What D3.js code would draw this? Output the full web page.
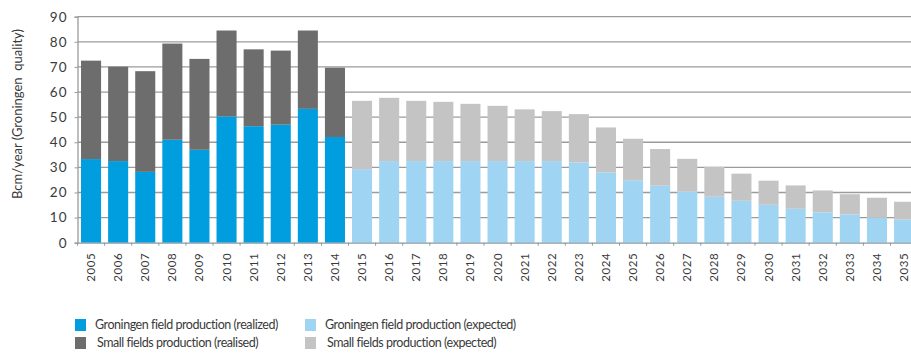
<!DOCTYPE html>
<html><head><meta charset="utf-8">
<script src="https://cdn.jsdelivr.net/npm/d3@7"></script>
<style>body{margin:0;background:#fff}svg{display:block}text{font-family:Lato,"Open Sans",sans-serif;fill:#3a3a3a}</style>
</head><body>
<svg id="c" width="911" height="363"></svg>
<script>
const realizedYears = ["2005","2006","2007","2008","2009","2010","2011","2012","2013","2014"];
const expectedYears = ["2015","2016","2017","2018","2019","2020","2021","2022","2023","2024","2025","2026","2027","2028","2029","2030","2031","2032","2033","2034","2035"];
const groningenRealized = [33.3,32.5,28.2,41.0,37.0,50.3,46.4,47.0,53.3,42.1];
const smallRealized     = [39.2,37.6,40.1,38.3,36.2,34.2,30.6,29.5,31.2,27.6];
const groningenExpected = [29.3,32.5,32.5,32.5,32.5,32.5,32.5,32.5,32.0,28.0,24.9,22.7,20.4,18.3,16.7,15.1,13.5,12.1,11.3,9.9,9.2];
const smallExpected     = [27.2,25.2,24.0,23.6,22.8,22.0,20.6,19.9,19.2,17.9,16.5,14.6,13.0,11.9,10.8,9.6,9.3,8.7,8.0,8.0,7.1];
const yTicks = [0,10,20,30,40,50,60,70,80,90];
const yTitle = "Bcm/year (Groningen  quality)";
const legendLabels = ["Groningen field production (realized)","Groningen field production (expected)","Small fields production (realised)","Small fields production (expected)"];
const colors = {gR:"#009ddf", gE:"#9fd5f3", sR:"#6d6d6d", sE:"#c4c4c4"};

const years = realizedYears.concat(expectedYears);
const rows = realizedYears.map((y,i)=>({year:y,g:groningenRealized[i],s:smallRealized[i],gc:colors.gR,sc:colors.sR}))
  .concat(expectedYears.map((y,i)=>({year:y,g:groningenExpected[i],s:smallExpected[i],gc:colors.gE,sc:colors.sE})));

const svg = d3.select("#c");
const x = d3.scaleBand().domain(years).range([77.5, 917.6]).paddingInner(0.26).paddingOuter(0.13);
const y = d3.scaleLinear().domain([0,90]).range([242.7,16.7]);
const left = 77.5, right = 911;

// gridlines
svg.append("g").selectAll("line").data(yTicks.slice(1)).join("line")
  .attr("x1",left).attr("x2",right).attr("y1",d=>y(d)).attr("y2",d=>y(d))
  .attr("stroke","#9b9b9b").attr("stroke-width",1.3);

// bars
const bars = svg.append("g");
bars.selectAll("rect.g").data(rows).join("rect").attr("class","g")
  .attr("x",d=>x(d.year)).attr("width",x.bandwidth())
  .attr("y",d=>y(d.g)).attr("height",d=>y(0)-y(d.g)).attr("fill",d=>d.gc);
bars.selectAll("rect.s").data(rows).join("rect").attr("class","s")
  .attr("x",d=>x(d.year)).attr("width",x.bandwidth())
  .attr("y",d=>y(d.g+d.s)).attr("height",d=>y(d.g)-y(d.g+d.s)).attr("fill",d=>d.sc);

// y axis
const ya = svg.append("g").attr("transform",`translate(${left},0)`)
  .call(d3.axisLeft(y).tickValues(yTicks).tickSize(3).tickPadding(7).tickFormat(d3.format("d")));
ya.select(".domain").attr("stroke","#9b9b9b").attr("stroke-width",1.3);
ya.selectAll(".tick line").attr("stroke","#9b9b9b");
ya.selectAll(".tick text").style("font-size","13.5px").style("letter-spacing","1px").attr("fill","#3a3a3a");

// x axis
const xa = svg.append("g").attr("transform",`translate(0,${y(0)})`)
  .call(d3.axisBottom(x).tickSize(0).tickPadding(0));
xa.select(".domain").attr("stroke","#8a9aa5").attr("stroke-width",1.3);
xa.selectAll(".tick text").attr("transform","rotate(-90)").attr("text-anchor","end")
  .attr("x",-10).attr("y",0).attr("dy","0.35em")
  .style("font-size","11.5px").style("letter-spacing","0.6px").attr("fill","#3a3a3a");
// boundary tick marks
const step = x.step();
svg.append("g").selectAll("line").data(years).join("line")
  .attr("x1",d=>x(d)-step*x.paddingInner()/2).attr("x2",d=>x(d)-step*x.paddingInner()/2)
  .attr("y1",y(0)).attr("y2",y(0)+3).attr("stroke","#8a9aa5");

// y title
svg.append("text").attr("transform","translate(22,114) rotate(-90)").attr("text-anchor","middle")
  .style("font-size","13px").style("white-space","pre").text(yTitle);

// legend
const legPos = [[75,319],[305,319],[75,337],[305,337]];
const legCol = [colors.gR,colors.gE,colors.sR,colors.sE];
const leg = svg.append("g");
leg.selectAll("rect").data(legendLabels).join("rect")
  .attr("x",(d,i)=>legPos[i][0]).attr("y",(d,i)=>legPos[i][1]).attr("width",11).attr("height",12).attr("fill",(d,i)=>legCol[i]);
leg.selectAll("text").data(legendLabels).join("text")
  .attr("x",(d,i)=>legPos[i][0]+20+(i>=2?2:0)).attr("y",(d,i)=>legPos[i][1]+6).attr("dy","0.35em")
  .style("font-size","12.5px").style("letter-spacing","-0.45px").text(d=>d);
</script>
</body></html>
